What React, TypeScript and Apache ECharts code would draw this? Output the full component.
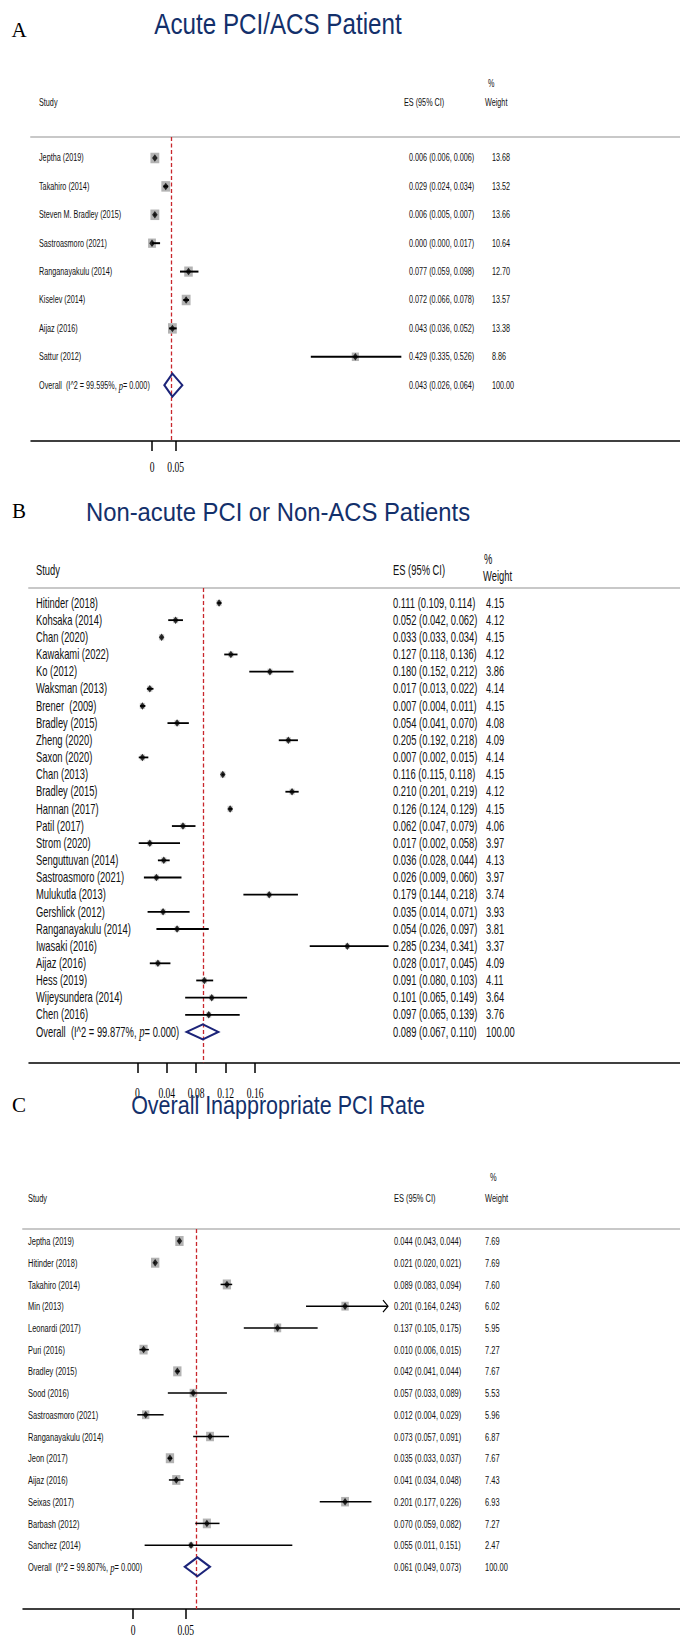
import React, { useEffect, useRef } from 'react';
import * as echarts from 'echarts';

// ---------- Panel A ----------
const titleA = 'Acute PCI/ACS Patient';
const studiesA = ['Jeptha (2019)', 'Takahiro (2014)', 'Steven M. Bradley (2015)', 'Sastroasmoro (2021)', 'Ranganayakulu (2014)', 'Kiselev (2014)', 'Aijaz (2016)', 'Sattur (2012)'];
const esA = [0.006, 0.029, 0.006, 0.000, 0.077, 0.072, 0.043, 0.429];
const loA = [0.006, 0.024, 0.005, 0.000, 0.059, 0.066, 0.036, 0.335];
const hiA = [0.006, 0.034, 0.007, 0.017, 0.098, 0.078, 0.052, 0.526];
const wA = [13.68, 13.52, 13.66, 10.64, 12.70, 13.57, 13.38, 8.86];
const overallA = [0.043, 0.026, 0.064];
const hetA = ['99.595%', '0.000'];
const ticksA = [0, 0.05];

// ---------- Panel B ----------
const titleB = 'Non-acute PCI or Non-ACS Patients';
const studiesB = ['Hitinder (2018)', 'Kohsaka (2014)', 'Chan (2020)', 'Kawakami (2022)', 'Ko (2012)', 'Waksman (2013)', 'Brener  (2009)', 'Bradley (2015)', 'Zheng (2020)', 'Saxon (2020)', 'Chan (2013)', 'Bradley (2015)', 'Hannan (2017)', 'Patil (2017)', 'Strom (2020)', 'Senguttuvan (2014)', 'Sastroasmoro (2021)', 'Mulukutla (2013)', 'Gershlick (2012)', 'Ranganayakulu (2014)', 'Iwasaki (2016)', 'Aijaz (2016)', 'Hess (2019)', 'Wijeysundera (2014)', 'Chen (2016)'];
const esB = [0.111, 0.052, 0.033, 0.127, 0.180, 0.017, 0.007, 0.054, 0.205, 0.007, 0.116, 0.210, 0.126, 0.062, 0.017, 0.036, 0.026, 0.179, 0.035, 0.054, 0.285, 0.028, 0.091, 0.101, 0.097];
const loB = [0.109, 0.042, 0.033, 0.118, 0.152, 0.013, 0.004, 0.041, 0.192, 0.002, 0.115, 0.201, 0.124, 0.047, 0.002, 0.028, 0.009, 0.144, 0.014, 0.026, 0.234, 0.017, 0.080, 0.065, 0.065];
const hiB = [0.114, 0.062, 0.034, 0.136, 0.212, 0.022, 0.011, 0.070, 0.218, 0.015, 0.118, 0.219, 0.129, 0.079, 0.058, 0.044, 0.060, 0.218, 0.071, 0.097, 0.341, 0.045, 0.103, 0.149, 0.139];
const wB = [4.15, 4.12, 4.15, 4.12, 3.86, 4.14, 4.15, 4.08, 4.09, 4.14, 4.15, 4.12, 4.15, 4.06, 3.97, 4.13, 3.97, 3.74, 3.93, 3.81, 3.37, 4.09, 4.11, 3.64, 3.76];
const overallB = [0.089, 0.067, 0.110];
const hetB = ['99.877%', '0.000'];
const ticksB = [0, 0.04, 0.08, 0.12, 0.16];

// ---------- Panel C ----------
const titleC = 'Overall Inappropriate PCI Rate';
const studiesC = ['Jeptha (2019)', 'Hitinder (2018)', 'Takahiro (2014)', 'Min (2013)', 'Leonardi (2017)', 'Puri (2016)', 'Bradley (2015)', 'Sood (2016)', 'Sastroasmoro (2021)', 'Ranganayakulu (2014)', 'Jeon (2017)', 'Aijaz (2016)', 'Seixas (2017)', 'Barbash (2012)', 'Sanchez (2014)'];
const esC = [0.044, 0.021, 0.089, 0.201, 0.137, 0.010, 0.042, 0.057, 0.012, 0.073, 0.035, 0.041, 0.201, 0.070, 0.055];
const loC = [0.043, 0.020, 0.083, 0.164, 0.105, 0.006, 0.041, 0.033, 0.004, 0.057, 0.033, 0.034, 0.177, 0.059, 0.011];
const hiC = [0.044, 0.021, 0.094, 0.243, 0.175, 0.015, 0.044, 0.089, 0.029, 0.091, 0.037, 0.048, 0.226, 0.082, 0.151];
const wC = [7.69, 7.69, 7.60, 6.02, 5.95, 7.27, 7.67, 5.53, 5.96, 6.87, 7.67, 7.43, 6.93, 7.27, 2.47];
const overallC = [0.061, 0.049, 0.073];
const hetC = ['99.807%', '0.000'];
const ticksC = [0, 0.05];

const SANS = "'Liberation Sans', Arial, sans-serif";
const SERIF = "'Liberation Serif', 'Times New Roman', serif";
const NAVY = '#13306b';
const DIAMOND = '#1c2479';
const RED = '#c8262c';
const GRAY_BOX = '#b3b3b3';
const TXT = '#111111';

const fmtCI = (e: number, l: number, h: number) => `${e.toFixed(3)} (${l.toFixed(3)}, ${h.toFixed(3)})`;

type Layout = {
  letter: string; letterY: number; title: string; titleY: number; titleSize: number; titleScale: number;
  top: number; height: number; left: number;
  xMin: number; xMax: number; yMin: number; yMax: number;
  labelX: number; esX: number; wX: number; font: number; sx: number;
  hdrY: number; pctY: number; weightY: number; esHdrX: number; pctX: number; weightX: number; hdrFont: number;
  tickLabelY: number; boxK: [number, number]; boxColor: string; diamondH: number; ciW: number; clip: number | null;
};

type PanelData = {
  studies: string[]; es: number[]; lo: number[]; hi: number[]; w: number[];
  overall: number[]; het: string[]; ticks: number[];
};

const layouts: Layout[] = [
  {
    letter: 'A', letterY: 30, title: titleA, titleY: 24, titleSize: 29.5, titleScale: 0.82,
    top: 137, height: 304, left: 31,
    xMin: -0.2553, xMax: 1.1139, yMin: -0.739, yMax: 9.965,
    labelX: 39, esX: 409, wX: 492, font: 10.5, sx: 0.69,
    hdrY: 103, pctY: 84, weightY: 103, esHdrX: 404, pctX: 488, weightX: 485, hdrFont: 10.5,
    tickLabelY: 467, boxK: [2.4, 2.85], boxColor: GRAY_BOX, diamondH: 11.5, ciW: 2, clip: null,
  },
  {
    letter: 'B', letterY: 511, title: titleB, titleY: 512, titleSize: 26.5, titleScale: 0.9,
    top: 588, height: 475, left: 29,
    xMin: -0.1469, xMax: 0.7364, yMin: -0.874, yMax: 26.81,
    labelX: 36, esX: 393, wX: 486, font: 14, sx: 0.67,
    hdrY: 570, pctY: 559, weightY: 576, esHdrX: 393, pctX: 484, weightX: 483, hdrFont: 14,
    tickLabelY: 1093, boxK: [2.6, 3.0], boxColor: '#d0d0d0', diamondH: 7.5, ciW: 1.8, clip: null,
  },
  {
    letter: 'C', letterY: 1105, title: titleC, titleY: 1105, titleSize: 25, titleScale: 0.86,
    top: 1229, height: 380, left: 23,
    xMin: -0.1043, xMax: 0.5185, yMin: -0.552, yMax: 16.94,
    labelX: 28, esX: 394, wX: 485, font: 11.5, sx: 0.65,
    hdrY: 1198, pctY: 1177, weightY: 1198, esHdrX: 394, pctX: 490, weightX: 485, hdrFont: 11.5,
    tickLabelY: 1630, boxK: [3.0, 3.6], boxColor: GRAY_BOX, diamondH: 9.5, ciW: 1.5, clip: 0.2417,
  },
];

const panels: PanelData[] = [
  { studies: studiesA, es: esA, lo: loA, hi: hiA, w: wA, overall: overallA, het: hetA, ticks: ticksA },
  { studies: studiesB, es: esB, lo: loB, hi: hiB, w: wB, overall: overallB, het: hetB, ticks: ticksB },
  { studies: studiesC, es: esC, lo: loC, hi: hiC, w: wC, overall: overallC, het: hetC, ticks: ticksC },
];

const pointSeriesIndex: number[] = [];

function buildOption() {
  const grid: any[] = [];
  const xAxis: any[] = [];
  const yAxis: any[] = [];
  const series: any[] = [];

  panels.forEach((d, gi) => {
    const L = layouts[gi];
    const n = d.studies.length;

    grid.push({ left: L.left, right: 0, top: L.top, height: L.height, containLabel: false });

    const xBase = xAxis.length;
    xAxis.push({
      type: 'value', gridIndex: gi, min: L.xMin, max: L.xMax, position: 'bottom',
      splitLine: { show: false },
      axisLine: { show: true, onZero: false, lineStyle: { color: '#000', width: 1.5 } },
      axisTick: { show: true, customValues: d.ticks, length: 10, lineStyle: { color: '#000', width: 1.5 } },
      axisLabel: { show: false },
    });
    xAxis.push({
      type: 'value', gridIndex: gi, min: L.xMin, max: L.xMax, position: 'top',
      splitLine: { show: false },
      axisLine: { show: true, onZero: false, lineStyle: { color: '#c8c8c8', width: 2 } },
      axisTick: { show: false }, axisLabel: { show: false },
    });

    const yBase = yAxis.length;
    yAxis.push({
      type: 'value', gridIndex: gi, min: L.yMin, max: L.yMax, inverse: true,
      splitLine: { show: false }, axisLine: { show: false, onZero: false }, axisTick: { show: false },
      axisLabel: { show: false },
    });

    const axes = { xAxisIndex: xBase, yAxisIndex: yBase };

    // weight boxes + reference line at the overall estimate
    series.push({
      type: 'scatter', ...axes, silent: true, z: 2,
      symbol: 'rect',
      symbolSize: (val: number[]) => [L.boxK[0] * Math.sqrt(val[2]), L.boxK[1] * Math.sqrt(val[2])],
      itemStyle: { color: L.boxColor, opacity: 1 },
      data: d.es.map((e, i) => [e, i, d.w[i]]),
      markLine: {
        silent: true, symbol: ['none', 'none'], z: 1,
        label: { show: false },
        lineStyle: { color: RED, type: [4, 2.5], width: 1.3 },
        data: [{ xAxis: d.overall[0] }],
      },
    });

    // confidence intervals
    series.push({
      type: 'custom', ...axes, silent: true, z: 3, clip: false,
      dimensions: ['lo', 'hi', 'row'],
      encode: { x: [0, 1], y: 2 },
      data: d.lo.map((l, i) => [l, d.hi[i], i]),
      renderItem: (_p: any, api: any) => {
        const lo = api.value(0);
        const hi = api.value(1);
        const r = api.value(2);
        const clipped = L.clip != null && hi > L.clip;
        const p1 = api.coord([lo, r]);
        const p2 = api.coord([clipped ? (L.clip as number) : hi, r]);
        const children: any[] = [{
          type: 'line',
          shape: { x1: p1[0], y1: p1[1], x2: p2[0], y2: p2[1] },
          style: { stroke: '#000', lineWidth: L.ciW },
        }];
        if (clipped) {
          children.push({
            type: 'polyline',
            shape: { points: [[p2[0] - 5, p2[1] - 6], [p2[0], p2[1]], [p2[0] - 5, p2[1] + 6]] },
            style: { stroke: '#000', fill: 'none', lineWidth: 1.2 },
          });
        }
        return { type: 'group', children };
      },
    });

    // point estimates
    pointSeriesIndex[gi] = series.length;
    series.push({
      type: 'scatter', ...axes, silent: true, z: 4,
      symbol: 'diamond', symbolSize: [5.5, 7.5],
      itemStyle: { color: '#000' },
      data: d.es.map((e, i) => [e, i]),
    });

    // overall diamond
    series.push({
      type: 'custom', ...axes, silent: true, z: 5, clip: false,
      dimensions: ['es', 'lo', 'hi', 'row'],
      encode: { x: [0, 1, 2], y: 3 },
      data: [[d.overall[0], d.overall[1], d.overall[2], n]],
      renderItem: (_p: any, api: any) => {
        const r = api.value(3);
        const c = api.coord([api.value(0), r]);
        const a = api.coord([api.value(1), r]);
        const b = api.coord([api.value(2), r]);
        const h = L.diamondH;
        return {
          type: 'polygon',
          shape: { points: [[a[0], c[1]], [c[0], c[1] - h], [b[0], c[1]], [c[0], c[1] + h]] },
          style: { stroke: DIAMOND, fill: 'rgba(0,0,0,0)', lineWidth: 2 },
        };
      },
    });
  });

  return { animation: false, backgroundColor: '#ffffff', grid, xAxis, yAxis, series };
}

// narrow text: Arial-metric font compressed horizontally like the original figure
function ntext(x: number, y: number, text: string, size: number, sx: number, extra: any = {}) {
  return {
    type: 'text', x, y, scaleX: sx, silent: true,
    style: { text, fontFamily: SANS, fontSize: size, fill: TXT, textVerticalAlign: 'middle', ...extra },
  };
}

function buildGraphics(chart: any) {
  const graphic: any[] = [];
  panels.forEach((d, gi) => {
    const L = layouts[gi];
    const finder = { seriesIndex: pointSeriesIndex[gi] };
    const n = d.studies.length;
    const rowY = (i: number) => chart.convertToPixel(finder, [0, i])[1];

    // panel letter and title
    graphic.push({
      type: 'text', x: 19, y: L.letterY, silent: true,
      style: { text: L.letter, fontFamily: SERIF, fontSize: 21, fill: '#000', textAlign: 'center', textVerticalAlign: 'middle' },
    });
    graphic.push(ntext(278, L.titleY, L.title, L.titleSize, L.titleScale, { fill: NAVY, textAlign: 'center' }));

    // column headings
    graphic.push(ntext(L.labelX, L.hdrY, 'Study', L.hdrFont, L.sx));
    graphic.push(ntext(L.esHdrX, L.hdrY, 'ES (95% CI)', L.hdrFont, L.sx));
    graphic.push(ntext(L.pctX, L.pctY, '%', L.hdrFont, L.sx));
    graphic.push(ntext(L.weightX, L.weightY, 'Weight', L.hdrFont, L.sx));

    // study rows
    d.studies.forEach((s, i) => {
      const y = rowY(i);
      graphic.push(ntext(L.labelX, y, s, L.font, L.sx));
      graphic.push(ntext(L.esX, y, fmtCI(d.es[i], d.lo[i], d.hi[i]), L.font, L.sx));
      graphic.push(ntext(L.wX, y, d.w[i].toFixed(2), L.font, L.sx));
    });

    // overall row
    const yo = rowY(n);
    graphic.push(ntext(L.labelX, yo, `{t|Overall  (I^2 = ${d.het[0]}, }{p|p}{t|= ${d.het[1]})}`, L.font, L.sx, {
      rich: {
        t: { fontFamily: SANS, fontSize: L.font, fill: TXT },
        p: { fontFamily: SERIF, fontStyle: 'italic', fontSize: L.font + 2, fill: TXT },
      },
    }));
    graphic.push(ntext(L.esX, yo, fmtCI(d.overall[0], d.overall[1], d.overall[2]), L.font, L.sx));
    graphic.push(ntext(L.wX, yo, (100).toFixed(2), L.font, L.sx));

    // x tick labels (serif, compressed like the original)
    d.ticks.forEach((t) => {
      const x = chart.convertToPixel(finder, [t, 0])[0];
      graphic.push({
        type: 'text', x, y: L.tickLabelY, scaleX: 0.66, silent: true,
        style: { text: String(t), fontFamily: SERIF, fontSize: 14.5, fill: '#000', textAlign: 'center', textVerticalAlign: 'middle' },
      });
    });
  });
  return graphic;
}

export default function App() {
  const ref = useRef<HTMLDivElement>(null);
  useEffect(() => {
    if (!ref.current) return;
    const chart = echarts.init(ref.current, undefined, { renderer: 'svg' });
    chart.setOption(buildOption() as any);
    chart.setOption({ graphic: buildGraphics(chart) } as any);
    return () => chart.dispose();
  }, []);
  return (
    <div
      ref={ref}
      style={{ position: 'absolute', left: 0, top: 0, width: 680, height: 1637, background: '#fff' }}
    />
  );
}
